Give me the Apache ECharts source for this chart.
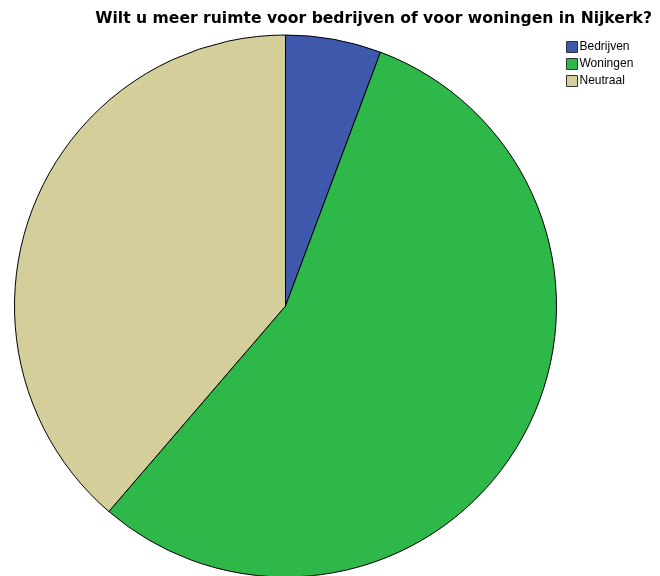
<!DOCTYPE html>
<html><head><meta charset="utf-8">
<script src="https://cdn.jsdelivr.net/npm/echarts@6/dist/echarts.min.js"></script>
<style>html,body{margin:0;padding:0;background:#fff}#c{width:660px;height:576px}</style>
</head><body><div id="c"></div>
<script>
const categories = ['Bedrijven', 'Woningen', 'Neutraal'];
const values = [5.7, 55.6, 38.7];
const colors = ['#3E58AC', '#2FB84A', '#D3CE9A'];
const titleText = 'Wilt u meer ruimte voor bedrijven of voor woningen in Nijkerk?';

const chart = echarts.init(document.getElementById('c'));
chart.setOption({
  backgroundColor: '#ffffff',
  animation: false,
  title: {
    text: titleText, right: 3, top: 6,
    textStyle: { fontFamily: 'DejaVu Sans', fontWeight: 'bold', fontSize: 15.6, color: '#000' }
  },
  legend: {
    orient: 'vertical', left: 561, top: 36, itemWidth: 11, itemHeight: 11, itemGap: 5,
    icon: 'rect',
    itemStyle: { borderColor: '#333', borderWidth: 1 },
    textStyle: { fontFamily: 'Liberation Sans, Arial', fontSize: 12, color: '#000', padding: [0,0,0,-3] },
    data: categories
  },
  series: [{
    type: 'pie', center: [285.5, 306], radius: 271, startAngle: 90, clockwise: true,
    label: { show: false }, labelLine: { show: false },
    itemStyle: { borderColor: '#000', borderWidth: 1 },
    emphasis: { disabled: true },
    data: categories.map((c, i) => ({ name: c, value: values[i], itemStyle: { color: colors[i] } }))
  }]
});
</script></body></html>
